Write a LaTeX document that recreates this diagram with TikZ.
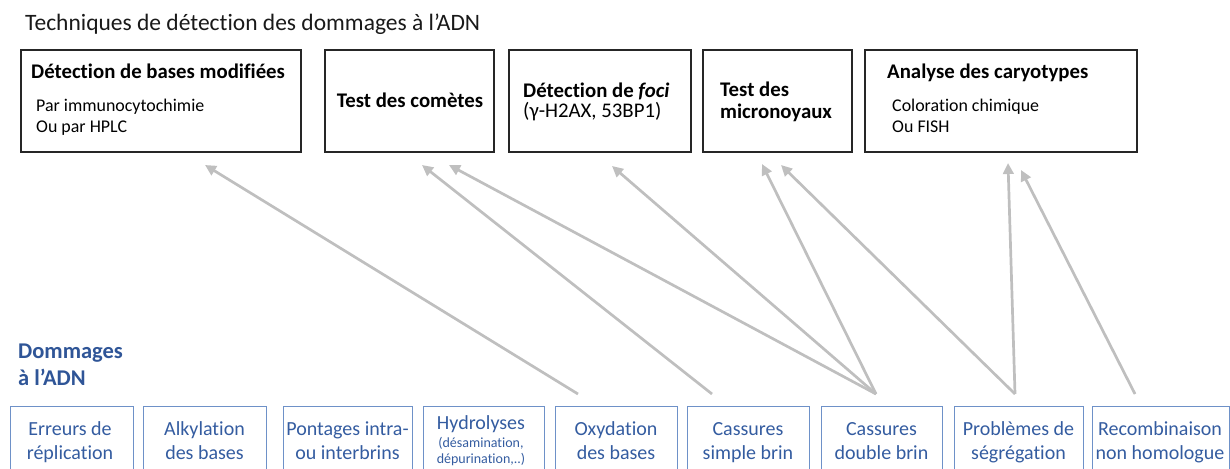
\documentclass[tikz,border=0pt]{standalone}
\usepackage{fontspec}
\setmainfont{Carlito}[Ligatures=NoCommon]
\usetikzlibrary{arrows.meta}
\definecolor{arrowgray}{RGB}{191,191,191}
\definecolor{dblue}{RGB}{47,85,151}
\definecolor{bblue}{RGB}{110,145,200}
\definecolor{tblue}{RGB}{52,92,160}
\begin{document}
\begin{tikzpicture}[x=1pt,y=-1pt,
  topbox/.style={draw=black!85, line width=1.1pt, inner sep=0pt, outer sep=0pt, minimum height=102pt},
  botbox/.style={draw=bblue, line width=0.9pt, inner sep=0pt, outer sep=0pt, minimum height=90pt},
  toptitle/.style={inner sep=0pt, anchor=base west, font=\fontsize{20.8}{20.8}\selectfont\bfseries},
  topsub/.style={inner sep=0pt, anchor=base west, align=left, font=\fontsize{17.9}{20.5}\selectfont},
  bottext/.style={inner sep=0pt, anchor=base, align=center, text=tblue, font=\fontsize{20}{24}\selectfont},
  link/.style={draw=arrowgray, line width=2.7pt, -{Triangle[length=11pt,width=10.5pt]}}
]
\useasboundingbox (0,0) rectangle (1230,468);
\clip (0,0) rectangle (1230,468);

% title
\node[inner sep=0pt, anchor=base west, font=\fontsize{23.5}{23.5}\selectfont, text=black!90] (title) at (25,31) {Techniques de détection des dommages à l’ADN};

% top boxes
\node[topbox, minimum width=280pt] (t1) at (161,101) {};
\node[topbox, minimum width=169pt] (t2) at (409.5,101) {};
\node[topbox, minimum width=182pt] (t3) at (600,101) {};
\node[topbox, minimum width=149pt] (t4) at (777.5,101) {};
\node[topbox, minimum width=272pt] (t5) at (1001,101) {};

\node[toptitle] (t1a) at (31,79) {Détection de bases modifiées};
\node[topsub] (t1b) at (36,132) {Par immunocytochimie\\Ou par HPLC};
\node[toptitle, anchor=base] (t2a) at (410,108) {Test des comètes};
\node[topsub, font=\fontsize{20.8}{20.5}\selectfont] (t3a) at (523,117.5) {\textbf{Détection de \textit{foci}}\\(γ-H2AX, 53BP1)};
\node[topsub, font=\fontsize{20.8}{21}\selectfont\bfseries] (t4a) at (720,118) {Test des\\micronoyaux};
\node[toptitle] (t5a) at (887,79) {Analyse des caryotypes};
\node[topsub] (t5b) at (892,132) {Coloration chimique\\Ou FISH};

% bottom label
\node[inner sep=0pt, anchor=base west, align=left, text=dblue, font=\fontsize{22.5}{27}\selectfont\bfseries] (dom) at (18,385) {Dommages\\à l’ADN};

% bottom boxes
\node[botbox, minimum width=123pt] (b1) at (71.5,451) {};
\node[botbox, minimum width=123pt] (b2) at (204.5,451) {};
\node[botbox, minimum width=129pt] (b3) at (347.5,451) {};
\node[botbox, minimum width=121pt] (b4) at (483.5,451) {};
\node[botbox, minimum width=122pt] (b5) at (616,451) {};
\node[botbox, minimum width=122pt] (b6) at (748,451) {};
\node[botbox, minimum width=121pt] (b7) at (881.5,451) {};
\node[botbox, minimum width=129pt] (b8) at (1018.5,451) {};
\node[botbox, minimum width=137pt] (b9) at (1160.5,451) {};

\node[bottext] (b1t) at (70,459) {Erreurs de\\réplication};
\node[bottext] (b2t) at (204.5,459) {Alkylation\\des bases};
\node[bottext] (b3t) at (347.5,459) {Pontages intra-\\ou interbrins};
\node[bottext] (b4t) at (481,429) {Hydrolyses};
\node[bottext, font=\fontsize{14}{16}\selectfont] (b4s) at (481,463) {(désamination,\\dépurination,..)};
\node[bottext] (b5t) at (616,459) {Oxydation\\des bases};
\node[bottext] (b6t) at (748,459) {Cassures\\simple brin};
\node[bottext] (b7t) at (881.5,459) {Cassures\\double brin};
\node[bottext] (b8t) at (1018.5,459) {Problèmes de\\ségrégation};
\node[bottext] (b9t) at (1160,459) {Recombinaison\\non homologue};

% arrow ends
\coordinate (s5) at (578,394);
\coordinate (s6) at (712,394);
\coordinate (s7) at (876,394);
\coordinate (s8) at (1015,394);
\coordinate (s9) at (1135,394);
\coordinate (e1) at (205,165);
\coordinate (e2a) at (422,165);
\coordinate (e2b) at (449,165);
\coordinate (e3) at (612,166);
\coordinate (e4a) at (762,164);
\coordinate (e4b) at (781,165);
\coordinate (e5a) at (1008,163);
\coordinate (e5b) at (1021,170);

\draw[link] (s5) -- (e1);
\draw[link] (s6) -- (e2a);
\draw[link] (s7) -- (e2b);
\draw[link] (s7) -- (e3);
\draw[link] (s7) -- (e4a);
\draw[link] (s8) -- (e4b);
\draw[link] (s8) -- (e5a);
\draw[link] (s9) -- (e5b);
\end{tikzpicture}
\end{document}
